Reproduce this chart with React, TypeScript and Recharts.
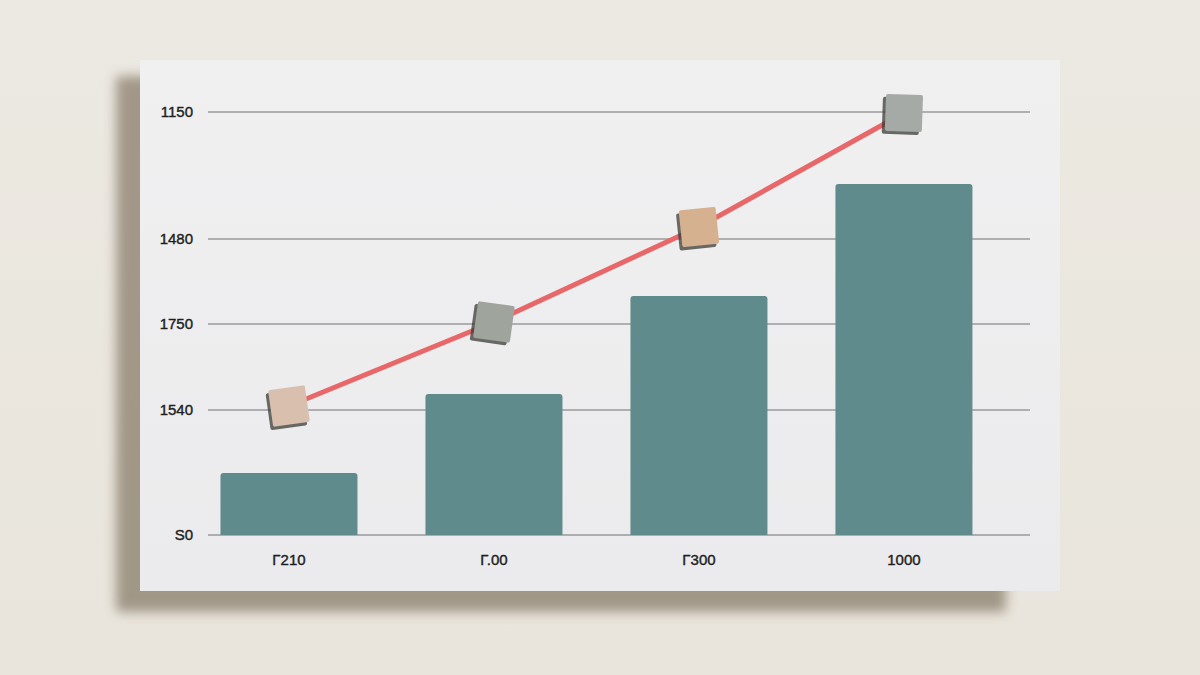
import React from "react";
import { ComposedChart, Bar, Line, XAxis, YAxis, CartesianGrid } from "recharts";

// values are in the chart's own units, baseline = 0
const X_LABELS = ["Γ210", "Γ.00", "Γ300", "1000"];
const X_POS = [0, 1, 2, 3];
const BAR_VALUES = [62, 141, 239, 351];
const LINE_VALUES = [129, 213, 308, 422];
const Y_TICKS = [0, 125, 211, 296, 423];
const Y_LABELS = ["S0", "1540", "1750", "1480", "1150"];

const MARKER_COLORS = ["#d9c0ae", "#9fa49d", "#d6b18f", "#a5aaa6"];
const MARKER_TILT = [-8, 8, -6, 2];

const data = X_POS.map((x, i) => ({ x, bar: BAR_VALUES[i], line: LINE_VALUES[i] }));

function SquareMarker(props: any) {
  const { cx, cy, index } = props;
  if (cx == null || cy == null) return null;
  const s = 37;
  return (
    <g transform={`rotate(${MARKER_TILT[index]} ${cx} ${cy})`}>
      <rect x={cx - s / 2 - 3} y={cy - s / 2 + 3} width={s} height={s} rx={2} fill="#3a3a36" opacity={0.75} />
      <rect x={cx - s / 2} y={cy - s / 2} width={s} height={s} rx={2} fill={MARKER_COLORS[index]} />
    </g>
  );
}

const tickStyle = {
  fontSize: 15,
  fill: "#1e1e1e",
  fontFamily: "'Liberation Sans', Arial, sans-serif",
  stroke: "#1e1e1e",
  strokeWidth: 0.4,
};

export default function App() {
  return (
    <div
      style={{
        position: "fixed",
        left: 0,
        top: 0,
        width: 1200,
        height: 675,
        background: "linear-gradient(180deg, #ece9e2 0%, #e9e5dc 100%)",
        overflow: "hidden",
      }}
    >
      {/* shadow under the sheet */}
      <div
        style={{
          position: "absolute",
          left: 116,
          top: 76,
          width: 890,
          height: 536,
          background: "#8a7d6b",
          filter: "blur(6px)",
          opacity: 0.75,
          borderRadius: 4,
        }}
      />
      {/* sheet */}
      <div
        style={{
          position: "absolute",
          left: 140,
          top: 60,
          width: 920,
          height: 531,
          background: "linear-gradient(180deg, #f0f0f1 0%, #ebebed 100%)",
        }}
      />
      <div style={{ position: "absolute", left: 0, top: 0 }}>
        <ComposedChart
          width={1200}
          height={675}
          data={data}
          margin={{ top: 112, right: 170, bottom: 110, left: 0 }}
        >
          <CartesianGrid vertical={false} stroke="#9a9a9a" strokeWidth={1.5} />
          <XAxis
            dataKey="x"
            type="number"
            domain={[-0.395, 3.615]}
            ticks={X_POS}
            tickFormatter={(v: number) => X_LABELS[v]}
            axisLine={false}
            tickLine={false}
            tickSize={0}
            tickMargin={19}
            height={30}
            tick={tickStyle}
          />
          <YAxis
            type="number"
            domain={[0, 423]}
            ticks={Y_TICKS}
            tickFormatter={(v: number) => Y_LABELS[Y_TICKS.indexOf(v)]}
            axisLine={false}
            tickLine={false}
            tickSize={0}
            tickMargin={15}
            width={208}
            tick={tickStyle}
          />
          <Bar dataKey="bar" barSize={137} fill="#608b8d" radius={[3, 3, 0, 0]} isAnimationActive={false} />
          <Line
            dataKey="line"
            type="linear"
            stroke="#e8686a"
            strokeWidth={5}
            dot={<SquareMarker />}
            activeDot={false}
            isAnimationActive={false}
          />
        </ComposedChart>
      </div>
    </div>
  );
}
